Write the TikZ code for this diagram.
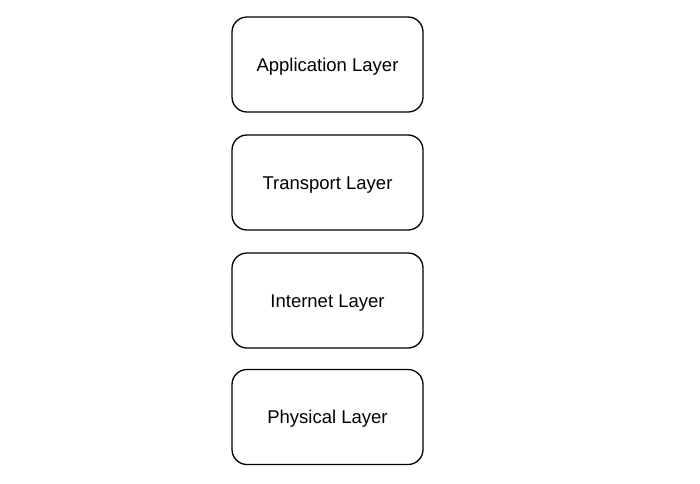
\documentclass[tikz,border=0pt]{standalone}
\usepackage{fontspec}
\setmainfont{Liberation Sans}
\begin{document}
\begin{tikzpicture}[x=1pt,y=-1pt,
  layerbox/.style={draw=black, line width=1.3pt, rounded corners=15pt, minimum width=191pt, minimum height=95pt, inner sep=0pt, text height=13.25pt, text depth=0pt, font=\fontsize{18.5}{22}\selectfont}]
\useasboundingbox (0,0) rectangle (700,483);
\node[layerbox] (app) at (327.5,64.5) {Application Layer};
\node[layerbox] (trans) at (327.5,182.5) {Transport Layer};
\node[layerbox] (inet) at (327.5,300.5) {Internet Layer};
\node[layerbox] (phys) at (327.5,417) {Physical Layer};
\end{tikzpicture}
\end{document}
